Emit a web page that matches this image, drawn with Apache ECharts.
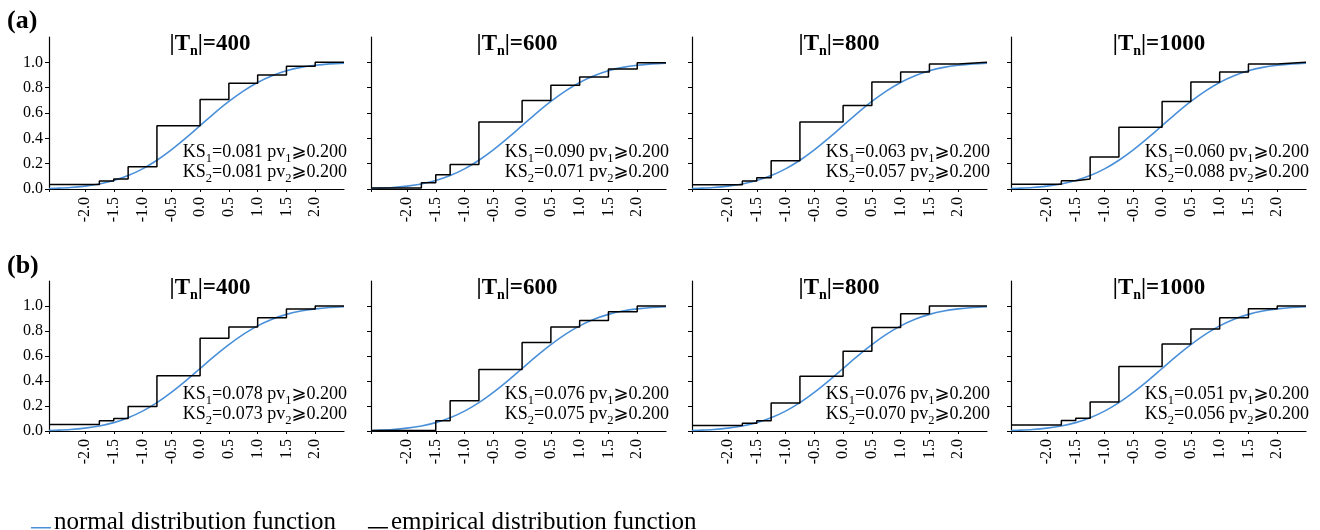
<!DOCTYPE html>
<html><head><meta charset="utf-8">
<script src="https://cdn.jsdelivr.net/npm/echarts@6/dist/echarts.min.js"></script>
<style>html,body{margin:0;padding:0;background:#fff}#c{width:1320px;height:530px}</style>
</head><body><div id="c"></div>
<script>
// ---- data ----
const stepX = [-2.625, -1.75, -1.5, -1.25, -0.75, 0, 0.5, 1.0, 1.5, 2.0, 2.5];
const ecdfA400  = [0.035, 0.063, 0.079, 0.176, 0.499, 0.706, 0.835, 0.900, 0.969, 1.0, 1.0];
const ecdfA600  = [0.008, 0.050, 0.113, 0.194, 0.528, 0.698, 0.819, 0.885, 0.948, 0.997, 0.997];
const ecdfA800  = [0.034, 0.063, 0.089, 0.223, 0.528, 0.659, 0.845, 0.924, 0.987, 1.0, 1.0];
const ecdfA1000 = [0.037, 0.066, 0.079, 0.252, 0.488, 0.690, 0.845, 0.924, 0.987, 1.0, 1.0];
const ecdfB400  = [0.053, 0.082, 0.100, 0.196, 0.442, 0.743, 0.833, 0.907, 0.976, 1.0, 1.0];
const ecdfB600  = [0.005, 0.005, 0.082, 0.243, 0.492, 0.709, 0.833, 0.884, 0.955, 1.0, 1.0];
const ecdfB800  = [0.045, 0.063, 0.082, 0.225, 0.439, 0.638, 0.828, 0.939, 1.0, 1.0, 1.0];
const ecdfB1000 = [0.048, 0.085, 0.103, 0.233, 0.516, 0.696, 0.817, 0.907, 0.979, 1.0, 1.0];
const normX = [-2.625, -2.5, -2.25, -2.0, -1.75, -1.5, -1.25, -1.0, -0.75, -0.5, -0.25, 0, 0.25, 0.5, 0.75, 1.0, 1.25, 1.5, 1.75, 2.0, 2.25, 2.5];
const normY = [0.004, 0.006, 0.012, 0.023, 0.040, 0.067, 0.106, 0.159, 0.227, 0.309, 0.401, 0.5, 0.599, 0.691, 0.773, 0.841, 0.894, 0.933, 0.960, 0.977, 0.988, 0.994];
const sizes = [400, 600, 800, 1000];
const ks1A = ['0.081', '0.090', '0.063', '0.060'];
const ks2A = ['0.081', '0.071', '0.057', '0.088'];
const ks1B = ['0.078', '0.076', '0.076', '0.051'];
const ks2B = ['0.073', '0.075', '0.070', '0.056'];
const pvText = '0.200';
const xTicks = [-2.0, -1.5, -1.0, -0.5, 0.0, 0.5, 1.0, 1.5, 2.0];
const yTicks = [0, 0.2, 0.4, 0.6, 0.8, 1.0];
const rowLabels = ['(a)', '(b)'];
const seriesNames = ['normal distribution function', 'empirical distribution function'];

// ---- layout ----
const SERIF = "'Liberation Serif', 'DejaVu Serif', 'DejaVu Sans', serif";
const gridLefts = [49, 371, 692, 1011];
const gridW = 295;
const rowTops = [37, 281];
const rowH = [152, 150];
const titleCx = [210, 517, 839, 1159];
const titleY = [31, 275];
const ksTop = [142, 384];
const rowLabelTop = [8, 253];
const BLUE = '#4a90d9';

const rows = [
  { ecdf: [ecdfA400, ecdfA600, ecdfA800, ecdfA1000], ks1: ks1A, ks2: ks2A },
  { ecdf: [ecdfB400, ecdfB600, ecdfB800, ecdfB1000], ks1: ks1B, ks2: ks2B }
];

const grid = [], xAxis = [], yAxis = [], series = [], title = [];
let idx = 0;
rows.forEach((row, r) => {
  title.push({
    text: rowLabels[r], left: 7, top: rowLabelTop[r], padding: 0,
    textStyle: { fontFamily: SERIF, fontWeight: 'bold', fontSize: 26, color: '#000' }
  });
  for (let c = 0; c < 4; c++) {
    grid.push({ left: gridLefts[c], width: gridW, top: rowTops[r], height: rowH[r], containLabel: false });
    xAxis.push({
      gridIndex: idx, type: 'value', min: -2.625, max: 2.5,
      splitLine: { show: false },
      axisLine: { onZero: false, lineStyle: { color: '#000', width: 1.2 } },
      axisTick: { show: true, length: 3, customValues: [-2.625].concat(xTicks), lineStyle: { color: '#000' } },
      axisLabel: {
        customValues: xTicks, rotate: 90, margin: 8, color: '#000',
        fontFamily: SERIF, fontSize: 16,
        formatter: v => v.toFixed(1)
      }
    });
    yAxis.push({
      gridIndex: idx, type: 'value', min: 0, max: 1.2,
      splitLine: { show: false },
      axisLine: { show: true, onZero: false, lineStyle: { color: '#000', width: 1.2 } },
      axisTick: { show: true, length: 4, customValues: yTicks, lineStyle: { color: '#000' } },
      axisLabel: {
        show: c === 0, customValues: yTicks, margin: 6, color: '#000',
        fontFamily: SERIF, fontSize: 16,
        formatter: v => v.toFixed(1)
      }
    });
    series.push({
      name: seriesNames[0], type: 'line', xAxisIndex: idx, yAxisIndex: idx,
      data: normX.map((x, i) => [x, normY[i]]),
      smooth: 0.3, showSymbol: false, symbol: 'none',
      lineStyle: { color: BLUE, width: 1.6 }, itemStyle: { color: BLUE },
      z: 2
    });
    series.push({
      name: seriesNames[1], type: 'line', xAxisIndex: idx, yAxisIndex: idx,
      data: stepX.map((x, i) => [x, row.ecdf[c][i]]),
      step: 'end', showSymbol: false, symbol: 'none',
      lineStyle: { color: '#000', width: 1.5 }, itemStyle: { color: '#000' },
      z: 3
    });
    title.push({
      text: '{a||T}{s|n}{a||=' + sizes[c] + '}',
      left: titleCx[c], textAlign: 'center', top: titleY[r], padding: 0,
      textStyle: {
        rich: {
          a: { fontFamily: SERIF, fontWeight: 'bold', fontSize: 23, lineHeight: 27, color: '#000' },
          s: { fontFamily: SERIF, fontWeight: 'bold', fontSize: 14, lineHeight: 27, verticalAlign: 'bottom', color: '#000' }
        }
      }
    });
    const m = t => '{m|' + t + '}';
    const s = t => '{s|' + t + '}';
    title.push({
      text: m('KS') + s('1') + m('=' + row.ks1[c] + ' pv') + s('1') + m('\u2A7E' + pvText) + '\n' +
            m('KS') + s('2') + m('=' + row.ks2[c] + ' pv') + s('2') + m('\u2A7E' + pvText),
      right: 1320 - (gridLefts[c] + gridW + 3), top: ksTop[r], padding: 0,
      textStyle: {
        fontWeight: 'normal',
        rich: {
          m: { fontFamily: SERIF, fontWeight: 'normal', fontSize: 18, lineHeight: 20, color: '#000' },
          s: { fontFamily: SERIF, fontWeight: 'normal', fontSize: 12.5, lineHeight: 20, verticalAlign: 'bottom', padding: [0, 0, -3, 0], color: '#000' }
        }
      }
    });
    idx++;
  }
});

const chart = echarts.init(document.getElementById('c'), null, { renderer: 'canvas' });
chart.setOption({
  animation: false,
  backgroundColor: '#fff',
  title: title,
  grid: grid, xAxis: xAxis, yAxis: yAxis, series: series,
  legend: {
    data: seriesNames, left: 26, top: 505, itemWidth: 20, itemHeight: 16, itemGap: 32,
    icon: 'path://M0,0L0.01,0L0.01,0.01Z M0,10.5L20,10.5L20,12L0,12Z',
    textStyle: { fontFamily: SERIF, fontSize: 25, color: '#000', padding: [0, 0, 0, -2] }
  }
});
</script>
</body></html>
